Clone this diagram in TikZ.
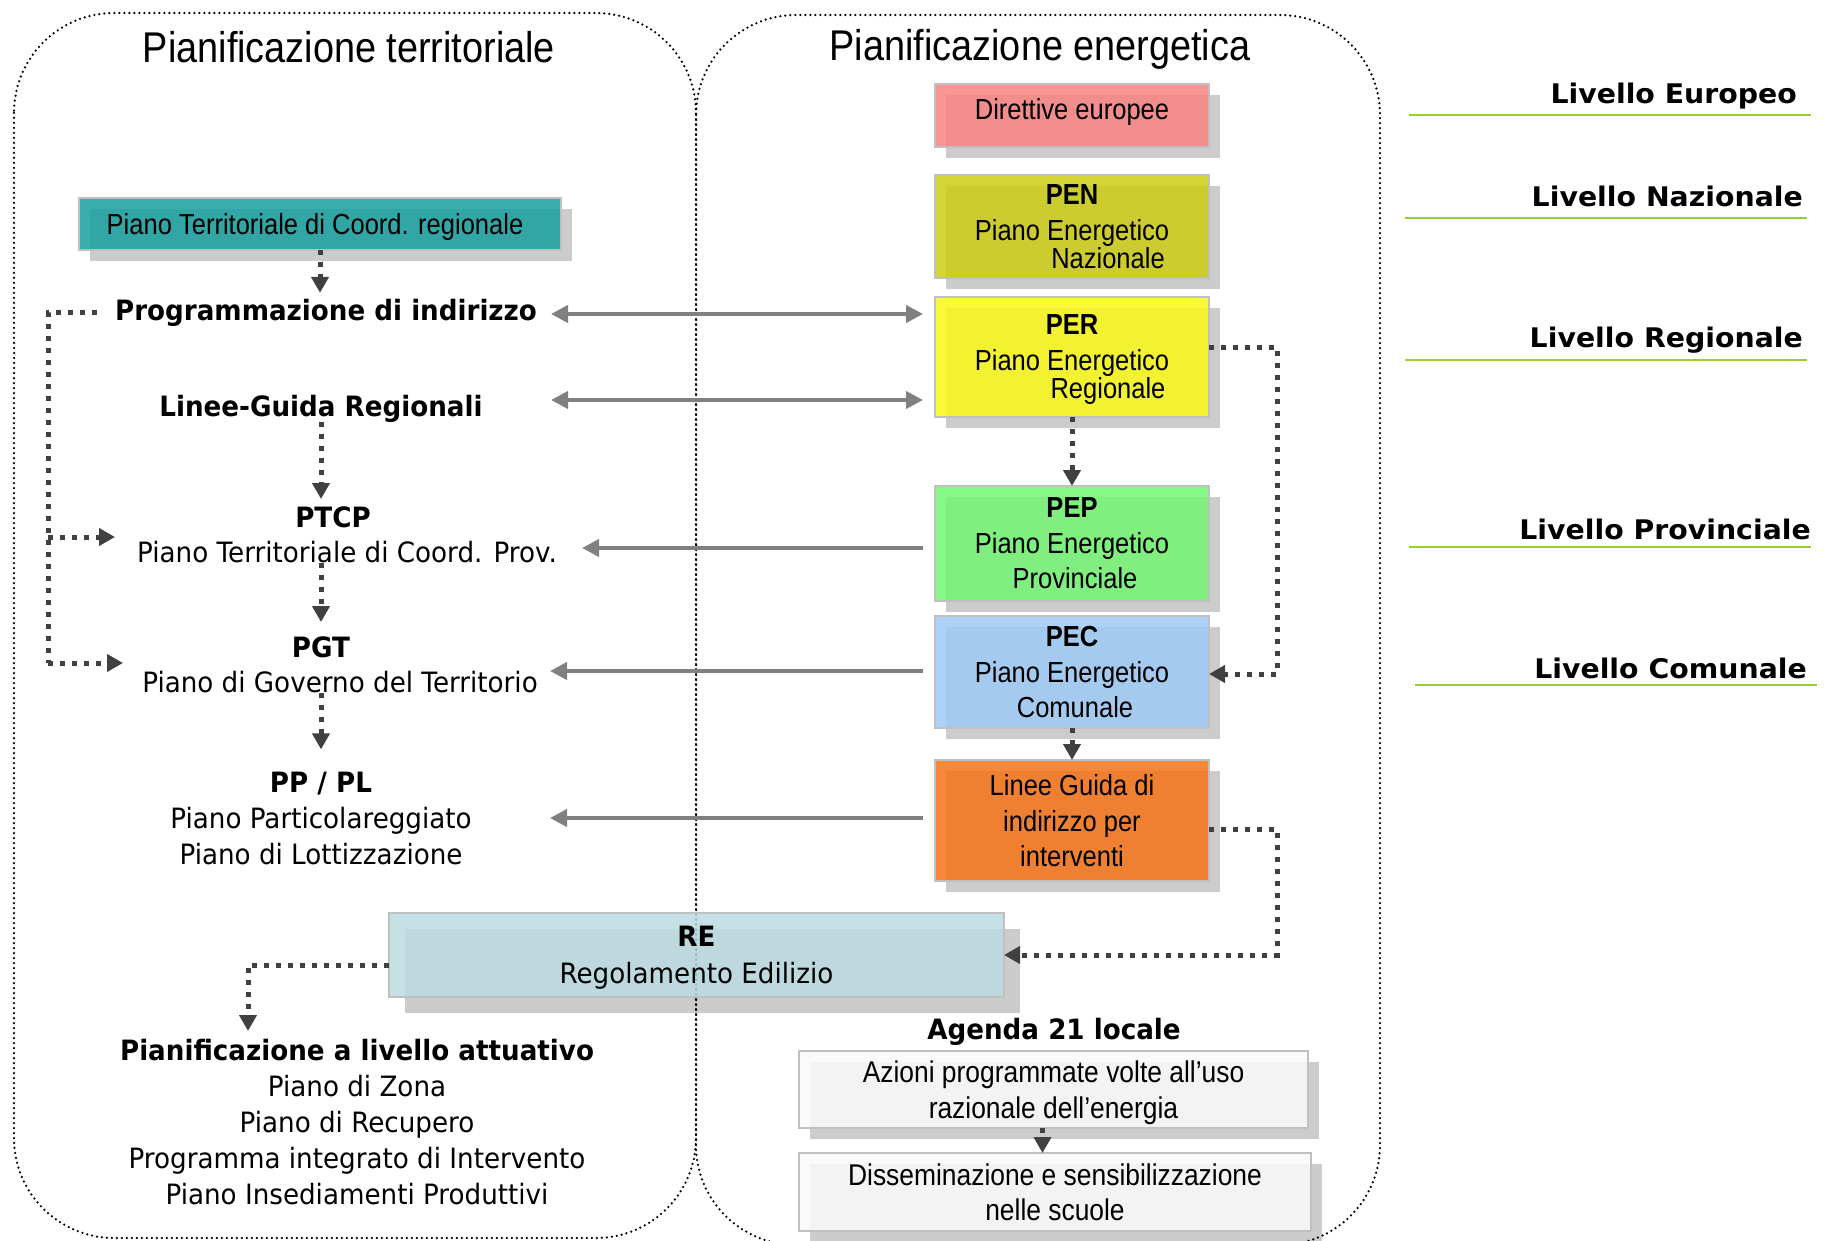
\documentclass[tikz,border=0pt]{standalone}
\usepackage{fontspec}
\setmainfont{Liberation Sans}
\newfontfamily\narrowf[FakeStretch=0.88]{Liberation Sans}
\newfontfamily\tahf[FakeStretch=0.935]{DejaVu Sans}
\newfontfamily\verf[FakeStretch=1.05]{DejaVu Sans}
\usetikzlibrary{arrows.meta}
\pgfdeclarelayer{background}
\pgfsetlayers{background,main}
\definecolor{pinkc}{RGB}{249,131,131}
\definecolor{olivec}{RGB}{205,205,23}
\definecolor{yellowc}{RGB}{249,249,23}
\definecolor{greenc}{RGB}{115,246,115}
\definecolor{bluec}{RGB}{159,202,246}
\definecolor{orangec}{RGB}{246,115,23}
\definecolor{tealc}{RGB}{24,159,159}
\definecolor{rec}{RGB}{188,220,225}
\definecolor{agc}{RGB}{250,250,250}
\definecolor{shadowc}{RGB}{204,204,204}
\definecolor{boxborder}{RGB}{192,192,192}
\definecolor{greyarr}{RGB}{128,128,128}
\definecolor{darkc}{RGB}{64,64,64}
\definecolor{levelline}{RGB}{154,205,50}
\begin{document}
\begin{tikzpicture}[x=1pt,y=-1pt,
  contour/.style={draw=black, line width=2.5pt, line cap=round, dash pattern=on 0pt off 5pt},
  narrowtxt/.style={font=\narrowf\fontsize{29}{35.5}\selectfont},
  agtxt/.style={font=\narrowf\fontsize{30}{35.5}\selectfont},
  titletxt/.style={font=\narrowf\fontsize{43}{50}\selectfont, inner sep=0pt},
  livtxt/.style={font=\verf\bfseries\fontsize{27}{32}\selectfont, inner sep=0pt},
  tahr/.style={font=\tahf\fontsize{28}{36}\selectfont, inner sep=0pt},
  tahb/.style={font=\tahf\bfseries\fontsize{28}{36}\selectfont, inner sep=0pt},
  ebox/.style={draw=boxborder, line width=2pt, fill opacity=0.85, text opacity=1,
    inner sep=0pt, outer sep=0pt, align=center, text depth=0pt,
    minimum width=274pt, narrowtxt},
  lvline/.style={draw=levelline, line width=2pt},
  garr/.style={draw=greyarr, line width=4pt, -{Triangle[length=17pt,width=17pt]}},
  garrboth/.style={draw=greyarr, line width=4pt, {Triangle[length=17pt,width=17pt]}-{Triangle[length=17pt,width=17pt]}},
  dline/.style={draw=darkc, line width=5pt, dash pattern=on 5pt off 7pt},
  darr/.style={dline, -{Triangle[length=16pt,width=17pt]}}
]
\useasboundingbox (0,0) rectangle (1826,1241);

% containers
\draw[contour, rounded corners=100pt] (14,13) rectangle (696,1238);
\draw[contour, rounded corners=100pt] (696,15) rectangle (1380,1245);

% titles
\node[titletxt, anchor=base] (t1) at (349,63) {Pianificazione territoriale};
\node[titletxt, anchor=base] (t2) at (1040,61) {Pianificazione energetica};

% level labels
\node[livtxt, anchor=base east] (lE) at (1797,104) {Livello Europeo};
\node[livtxt, anchor=base east] (lN) at (1803,207) {Livello Nazionale};
\node[livtxt, anchor=base east] (lR) at (1803,348) {Livello Regionale};
\node[livtxt, anchor=base east] (lP) at (1811,539) {Livello Provinciale};
\node[livtxt, anchor=base east] (lC) at (1807,678) {Livello Comunale};
\draw[lvline] (1409,115) -- (1811,115);
\draw[lvline] (1405,218) -- (1807,218);
\draw[lvline] (1405,360) -- (1807,360);
\draw[lvline] (1409,547) -- (1811,547);
\draw[lvline] (1415,685) -- (1817,685);

% boxes
\node[ebox, fill=tealc, minimum width=482pt, minimum height=52pt] (teal) at (320,224) {Piano Territoriale di Coord. regionale\hspace*{10pt}};
\node[ebox, fill=pinkc, minimum height=63pt] (dir) at (1072,115.5) {\raisebox{7pt}[\height][0pt]{Direttive europee}};
\node[ebox, fill=olivec, minimum height=103pt, text depth=-4pt] (pen) at (1072,227) {\textbf{PEN}\\Piano Energetico\\[-7pt]\hspace*{72pt}Nazionale};
\node[ebox, fill=yellowc, minimum height=120pt] (per) at (1072,357) {\textbf{PER}\\Piano Energetico\\[-7pt]\hspace*{72pt}Regionale};
\node[ebox, fill=greenc, minimum height=115pt] (pep) at (1072,543.5) {\textbf{PEP}\\Piano Energetico\\\hspace*{6pt}Provinciale};
\node[ebox, fill=bluec, minimum height=112pt] (pec) at (1072,672) {\textbf{PEC}\\Piano Energetico\\\hspace*{6pt}Comunale};
\node[ebox, fill=orangec, minimum height=121pt] (lgi) at (1072,820.5) {Linee Guida di\\indirizzo per\\interventi};
\node[ebox, fill=rec, minimum width=615pt, minimum height=84pt, text depth=-3pt, font=\tahf\fontsize{28}{37}\selectfont] (re) at (696.5,955) {\textbf{RE}\\Regolamento Edilizio};
\node[ebox, fill=agc, minimum width=509pt, minimum height=77pt, text depth=-7pt, agtxt] (ag1) at (1053.5,1089.5) {Azioni programmate volte all’uso\\razionale dell’energia};
\node[ebox, fill=agc, minimum width=512pt, minimum height=78pt, text depth=-8pt, agtxt] (ag2) at (1055,1192) {Disseminazione e sensibilizzazione\\nelle scuole};

% shadows
\begin{pgfonlayer}{background}
\fill[white] (0,0) rectangle (1826,1241);
\foreach \n/\s in {teal/11,dir/11,pen/11,per/11,pep/11,pec/11,lgi/11,re/16,ag1/11,ag2/11}
  \fill[shadowc] ([shift={(\s,\s)}]\n.north west) rectangle ([shift={(\s,\s)}]\n.south east);
\end{pgfonlayer}

% left column texts
\node[tahb, anchor=base] (prog) at (326,320) {Programmazione di indirizzo};
\node[tahb, anchor=base] (lgr) at (321,416) {Linee-Guida Regionali};
\node[tahb, anchor=base] (ptcp) at (333,527) {PTCP};
\node[tahr, anchor=base] (ptcpd) at (347,562) {Piano Territoriale di Coord. Prov.};
\node[tahb, anchor=base] (pgt) at (321,657) {PGT};
\node[tahr, anchor=base] (pgtd) at (340,692) {Piano di Governo del Territorio};
\node[tahb, anchor=base] (pppl) at (321,792) {PP / PL};
\node[tahr, anchor=north, align=center] (pppld) at (321,806.7) {Piano Particolareggiato\\Piano di Lottizzazione};
\node[tahr, anchor=north, align=center] (att) at (357,1039) {\textbf{Pianificazione a livello attuativo}\\Piano di Zona\\Piano di Recupero\\Programma integrato di Intervento\\Piano Insediamenti Produttivi};
\node[tahb, anchor=base] (ag) at (1054,1039) {Agenda 21 locale};

% free coordinates
\coordinate (pL) at (551,314);
\coordinate (lL) at (551,400);
\coordinate (ptcpTip) at (582,548);
\coordinate (pgtTip) at (550,671);
\coordinate (ppTip) at (550,818);
\coordinate (attTip) at (248,1031);
\coordinate (bkMid) at (48,537);
\coordinate (bkBot) at (48,663);
\coordinate (ptcpIn) at (115,537);
\coordinate (pgtIn) at (123,663);

% grey arrows
\draw[garrboth, shorten >=12pt] (pL) -- (pL -| per.west);
\draw[garrboth, shorten >=12pt] (lL) -- (lL -| per.west);
\draw[garr, shorten <=12pt] (ptcpTip -| pep.west) -- (ptcpTip);
\draw[garr, shorten <=12pt] (pgtTip -| pec.west) -- (pgtTip);
\draw[garr, shorten <=12pt] (ppTip -| lgi.west) -- (ppTip);

% dark dotted arrows
\draw[darr, shorten >=5.7pt] (teal.south) -- (teal.south |- prog.north);
\draw[darr, shorten >=7pt] (lgr.south) -- (lgr.south |- ptcp.north);
\draw[darr, shorten >=14pt] (pgt.north |- ptcpd.south) -- (pgt.north);
\draw[darr, shorten >=22pt] (pppl.north |- pgtd.south) -- (pppl.north);
\draw[dline] ([xshift=-18pt]prog.west) -| (bkBot);
\draw[darr] (bkMid) -- (ptcpIn);
\draw[darr] (bkBot) -- (pgtIn);
\draw[darr] (per.south) -- (pep.north);
\draw[darr] ([yshift=10pt]per.east) -- ++(68,0) |- ([yshift=-2pt]pec.east);
\draw[darr] (pec.south) -- (lgi.north);
\draw[darr] ([yshift=-8.5pt]lgi.east) -- ++(68,0) |- (re.east);
\draw[darr] ([yshift=-10pt]re.west) -| (attTip);
\draw[darr] ([xshift=-11pt]ag1.south) -- ([xshift=-11pt]ag1.south |- ag2.north);
\end{tikzpicture}
\end{document}
